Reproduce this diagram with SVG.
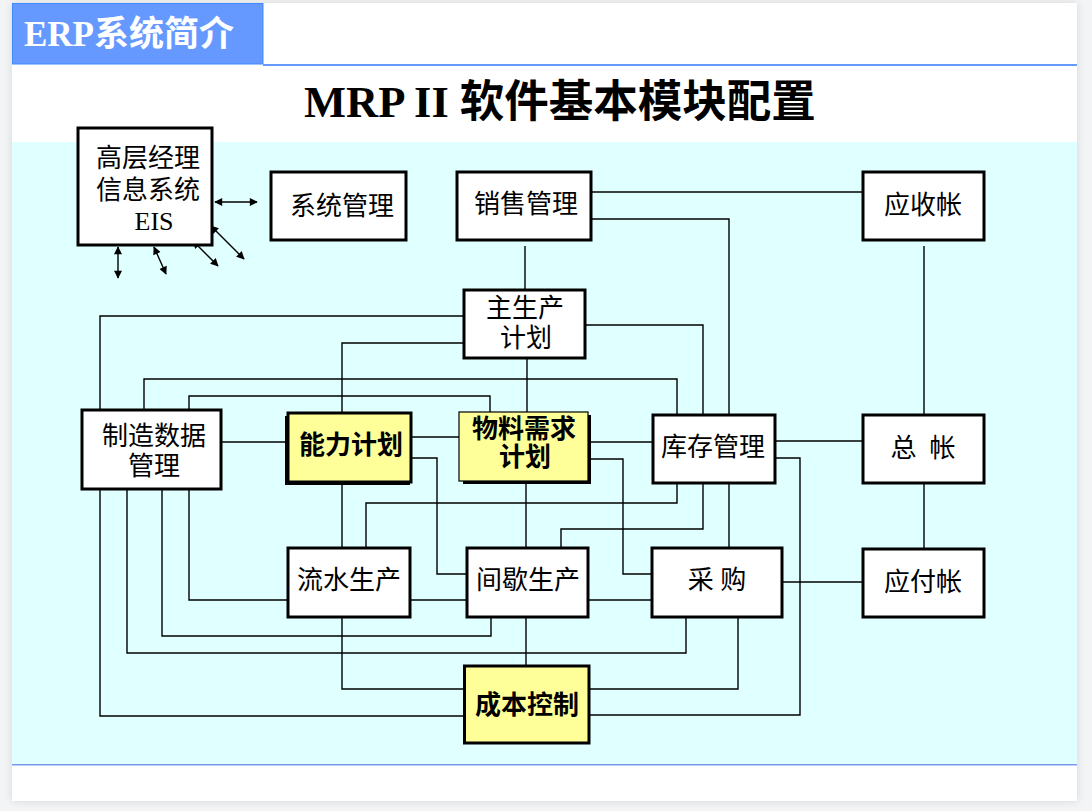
<svg xmlns="http://www.w3.org/2000/svg" width="1092" height="811" viewBox="0 0 1092 811">
<defs>
<filter id="sh" x="-5%" y="-5%" width="110%" height="110%"><feGaussianBlur stdDeviation="4"/></filter>
<marker id="ah" viewBox="0 0 10 10" refX="9" refY="5" markerWidth="9" markerHeight="8" markerUnits="userSpaceOnUse" orient="auto-start-reverse"><path d="M0,0 L10,5 L0,10 z" fill="#000"/></marker>
<style>
.box{fill:#fff;stroke:#000;stroke-width:3}
.ybox{fill:#ffff99;stroke:#000;stroke-width:3}
.ybox1{fill:#ffff99;stroke:#000;stroke-width:1.2}
.shd{fill:#000}
.t{font-family:"Liberation Serif","Noto Sans CJK SC",serif;font-size:26px;fill:#000;text-anchor:middle}
.b{font-weight:bold}
.c{fill:none;stroke:#000;stroke-width:1.4}
.ar{fill:none;stroke:#000;stroke-width:1.4;marker-start:url(#ah);marker-end:url(#ah)}
</style>
</defs>
<rect x="0" y="0" width="1092" height="811" fill="#f3f4f6"/>
<rect x="12" y="3" width="1065" height="798" fill="#000" opacity="0.12" filter="url(#sh)"/>
<rect x="12" y="3" width="1065" height="798" fill="#fff"/>
<rect x="12" y="142" width="1065" height="622.5" fill="#e0ffff"/>
<rect x="12" y="764" width="1065" height="1.5" fill="#7a99ee"/>
<rect x="12.5" y="3.5" width="250.5" height="60.5" fill="#6699ff" stroke="#3d8bff" stroke-width="1"/>
<rect x="263" y="64" width="814" height="2" fill="#6699ff"/>
<text x="24" y="46" style="font-family:'Liberation Serif','Noto Sans CJK SC',serif;font-size:35px;font-weight:bold;fill:#fff">ERP系统简介</text>
<text x="560" y="117" style="font-family:'Liberation Serif','Noto Sans CJK SC',serif;font-size:44.5px;font-weight:bold;fill:#000;text-anchor:middle">MRP II 软件基本模块配置</text>

<g id="connectors">
<polyline class="c" points="591,192 863,192"/>
<polyline class="c" points="591,219 729,219 729,415"/>
<polyline class="c" points="525,246 525,290"/>
<polyline class="c" points="924,246 924,415"/>
<polyline class="c" points="100,410 100,316 464,316"/>
<polyline class="c" points="144,410 144,379 677,379 677,415"/>
<polyline class="c" points="189,410 189,396 490,396 490,412"/>
<polyline class="c" points="342,413 342,343 464,343"/>
<polyline class="c" points="585,325 703,325 703,415"/>
<polyline class="c" points="527,358 527,412"/>
<polyline class="c" points="221,442 287,442"/>
<polyline class="c" points="412,437 459,437"/>
<polyline class="c" points="412,458 437,458 437,574 467,574"/>
<polyline class="c" points="588,442 653,442"/>
<polyline class="c" points="588,459 623,459 623,574 652,574"/>
<polyline class="c" points="775,441 863,441"/>
<polyline class="c" points="775,458 800,458 800,715 589,715"/>
<polyline class="c" points="677,483 677,503 366,503 366,548"/>
<polyline class="c" points="703,483 703,529 561,529 561,548"/>
<polyline class="c" points="729,483 729,548"/>
<polyline class="c" points="342,482 342,548"/>
<polyline class="c" points="526,481 526,548"/>
<polyline class="c" points="924,483 924,549"/>
<polyline class="c" points="782,582 863,582"/>
<polyline class="c" points="100,489 100,716 464,716"/>
<polyline class="c" points="127,489 127,653 686,653 686,617"/>
<polyline class="c" points="162,489 162,636 491,636 491,617"/>
<polyline class="c" points="189,489 189,600 288,600"/>
<polyline class="c" points="410,600 467,600"/>
<polyline class="c" points="588,600 652,600"/>
<polyline class="c" points="342,617 342,689 464,689"/>
<polyline class="c" points="526,617 526,666"/>
<polyline class="c" points="738,617 738,689 589,689"/>
<line class="ar" x1="215" y1="202" x2="257" y2="202"/>
<line class="ar" x1="118" y1="247" x2="118" y2="278"/>
<line class="ar" x1="154" y1="247" x2="166" y2="274"/>
<line class="ar" x1="193" y1="241" x2="218" y2="266"/>
<line class="ar" x1="211" y1="226" x2="244" y2="259"/>
</g>

<g id="eis"><rect class="box" x="78" y="128" width="134" height="117"/>
<text class="t" x="148" y="167">高层经理</text><text class="t" x="148" y="199">信息系统</text><text class="t" x="154" y="230">EIS</text></g>
<g id="sysmgmt"><rect class="box" x="271" y="172" width="135" height="68"/><text class="t" x="342" y="215">系统管理</text></g>
<g id="sales"><rect class="box" x="457" y="172" width="134" height="68"/><text class="t" x="526" y="213">销售管理</text></g>
<g id="ar"><rect class="box" x="863" y="172" width="121" height="68"/><text class="t" x="923" y="214">应收帐</text></g>
<g id="mps"><rect class="box" x="464" y="290" width="121" height="68"/><text class="t" x="525" y="317">主生产</text><text class="t" x="526" y="347">计划</text></g>
<g id="mfg"><rect class="box" x="82" y="410" width="139" height="79"/><text class="t" x="154" y="445">制造数据</text><text class="t" x="154" y="475">管理</text></g>
<g id="cap"><rect class="shd" x="285" y="416" width="125" height="69"/><rect class="ybox" x="288" y="413" width="123" height="69"/><text class="t b" x="351" y="454">能力计划</text></g>
<g id="mrp"><rect class="shd" x="463" y="415" width="128" height="69"/><rect class="ybox1" x="459" y="412" width="129" height="69"/><text class="t b" x="524" y="438">物料需求</text><text class="t b" x="525" y="466">计划</text></g>
<g id="inv"><rect class="box" x="653" y="415" width="122" height="68"/><text class="t" x="713" y="456">库存管理</text></g>
<g id="gl"><rect class="box" x="863" y="415" width="121" height="68"/><text class="t" x="923" y="457" xml:space="preserve">总  帐</text></g>
<g id="flow"><rect class="box" x="288" y="548" width="122" height="69"/><text class="t" x="349" y="589">流水生产</text></g>
<g id="intermittent"><rect class="box" x="467" y="548" width="121" height="69"/><text class="t" x="528" y="589">间歇生产</text></g>
<g id="purchase"><rect class="box" x="652" y="548" width="130" height="69"/><text class="t" x="717" y="589" xml:space="preserve">采 购</text></g>
<g id="ap"><rect class="box" x="863" y="549" width="121" height="68"/><text class="t" x="923" y="591">应付帐</text></g>
<g id="cost"><rect class="ybox" x="464.5" y="666" width="124.5" height="77"/><text class="t b" x="527" y="714">成本控制</text></g>
</svg>
